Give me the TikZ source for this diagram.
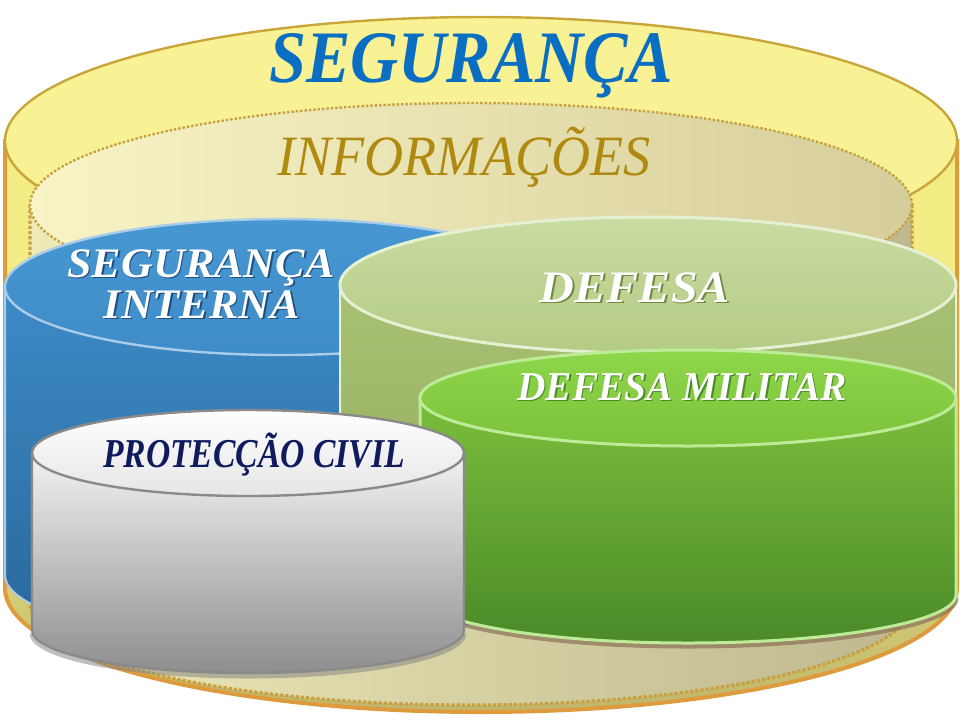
\documentclass[tikz,border=0pt]{standalone}
\usepackage{fontspec}
\setmainfont{Liberation Serif}
\usepackage{graphicx}
\definecolor{ylwTop}{HTML}{F8F294}
\definecolor{ylwBody}{HTML}{F3EB84}
\definecolor{ylwLow}{HTML}{BFB66C}
\definecolor{ylwLine}{HTML}{C9A63A}
\definecolor{ylwEdge}{HTML}{DE9B3E}
\definecolor{infL}{HTML}{F8F4C6}
\definecolor{infR}{HTML}{D6CE9A}
\definecolor{infBL}{HTML}{EEEAB8}
\definecolor{infBR}{HTML}{BDB88E}
\definecolor{infLine}{HTML}{C9A040}
\definecolor{bluTop}{HTML}{4697D2}
\definecolor{bluTop2}{HTML}{3F8CC8}
\definecolor{bluB1}{HTML}{3D8BC8}
\definecolor{bluB2}{HTML}{2A6797}
\definecolor{bluLine}{HTML}{A8CCEA}
\definecolor{defT1}{HTML}{C9DCA2}
\definecolor{defT2}{HTML}{B4CB84}
\definecolor{defB1}{HTML}{A9C174}
\definecolor{defB2}{HTML}{8DA858}
\definecolor{defLine}{HTML}{E6F0D2}
\definecolor{milT1}{HTML}{8ED64A}
\definecolor{milT2}{HTML}{7CC23A}
\definecolor{milB1}{HTML}{7BBE3C}
\definecolor{milB2}{HTML}{4B8A28}
\definecolor{milLine}{HTML}{BDEB98}
\definecolor{whtB2}{HTML}{8E8E8E}
\definecolor{whtLine}{HTML}{8A8A8A}
\definecolor{shadowBrown}{HTML}{8C7058}
\definecolor{segBlue}{HTML}{0A6FC2}
\definecolor{infGold}{HTML}{B08A10}
\definecolor{navy}{HTML}{0F1B5C}
\definecolor{shBlue}{HTML}{1E4E80}
\definecolor{shGreen}{HTML}{6E8A40}

\newcommand\cylbody[6]{%
  \path[#6] (#1-#2,#3) -- (#1-#2,#4) arc[start angle=180,end angle=0,x radius=#2,y radius=#5] -- (#1+#2,#3) -- cycle;}
\newcommand\cyltop[5]{%
  \path[#5] (#1,#2) ellipse[x radius=#3,y radius=#4];}
\newcommand\cylshadow[5]{%
  \path[#5] (#1-#2,#3) arc[start angle=180,end angle=0,x radius=#2,y radius=#4];}

\tikzset{
  txt/.style={inner sep=0pt, anchor=base},
  shadowline/.style={draw=shadowBrown, line width=2.5, opacity=0.7}
}

\begin{document}
\begin{tikzpicture}[x=0.5pt,y=-0.5pt]
\useasboundingbox (0,0) rectangle (960,720);

% outer SEGURANCA cylinder
\cylbody{481}{476}{141}{588}{124}{top color=ylwBody, bottom color=ylwLow, middle color=ylwBody, draw=ylwEdge, line width=2}
\cyltop{481}{141}{476}{124}{fill=ylwTop, draw=ylwLine, line width=1.2}

% inner INFORMACOES cylinder
\cylbody{471}{441}{205}{603}{102}{left color=infBL, right color=infBR, draw=infLine, line width=1.6, densely dotted}
\cyltop{471}{205}{441}{102}{left color=infL, right color=infR, draw=infLine, line width=1.2, densely dotted}

% blue SEGURANCA INTERNA cylinder
\cylbody{282}{277}{287}{575}{68}{top color=bluB1, bottom color=bluB2, draw=bluLine, line width=1}
\cyltop{282}{287}{277}{68}{top color=bluTop, bottom color=bluTop2, draw=bluLine, line width=1.2}

% DEFESA cylinder
\cylbody{648}{308}{285}{545}{68}{top color=defB1, bottom color=defB2, draw=defLine, line width=1}
\cyltop{648}{285}{308}{68}{top color=defT1, bottom color=defT2, draw=defLine, line width=1.5}

% DEFESA MILITAR cylinder
\cylshadow{688}{268}{598}{48}{shadowline}
\cylbody{688}{268}{398}{595}{48}{top color=milB1, bottom color=milB2, draw=milLine, line width=1.5}
\cyltop{688}{398}{268}{48}{top color=milT1, bottom color=milT2, draw=milLine, line width=1.5}

% PROTECCAO CIVIL cylinder
\cylshadow{248}{216}{633}{43}{shadowline, draw=gray, opacity=0.5}
\cylbody{248}{216}{453}{630}{43}{top color=white!95!black, bottom color=whtB2, draw=whtLine, line width=1.2}
\cyltop{248}{453}{216}{43}{top color=white, bottom color=white!90!black, draw=whtLine, line width=1.2}

% texts
\node[txt, font=\fontsize{37pt}{40pt}\selectfont\bfseries\itshape, text=segBlue] (seg) at (471,82) {\scalebox{0.9}[1]{SEGURANÇA}};
\node[txt, font=\fontsize{28.5pt}{30pt}\selectfont\itshape, text=infGold] (inf) at (464,175) {\scalebox{0.95}[1]{INFORMAÇÕES}};

\node[txt, font=\fontsize{21pt}{23pt}\selectfont\bfseries\itshape, text=shBlue] (segish) at (202.5,278.5) {\scalebox{1.05}[1]{SEGURANÇA}};
\node[txt, font=\fontsize{21pt}{23pt}\selectfont\bfseries\itshape, text=shBlue] (intsh) at (203.5,319.5) {\scalebox{1.05}[1]{INTERNA}};
\node[txt, font=\fontsize{21pt}{23pt}\selectfont\bfseries\itshape, text=white] (segi) at (201,277) {\scalebox{1.05}[1]{SEGURANÇA}};
\node[txt, font=\fontsize{21pt}{23pt}\selectfont\bfseries\itshape, text=white] (inti) at (202,318) {\scalebox{1.05}[1]{INTERNA}};

\node[txt, font=\fontsize{22.5pt}{24pt}\selectfont\bfseries\itshape, text=shGreen] (defsh) at (636.5,303.5) {\scalebox{1.07}[1]{DEFESA}};
\node[txt, font=\fontsize{22.5pt}{24pt}\selectfont\bfseries\itshape, text=white] (def) at (635,302) {\scalebox{1.07}[1]{DEFESA}};

\node[txt, font=\fontsize{20.5pt}{22pt}\selectfont\bfseries\itshape, text=milB2] (milsh) at (683.5,401.5) {\scalebox{0.96}[1]{DEFESA MILITAR}};
\node[txt, font=\fontsize{20.5pt}{22pt}\selectfont\bfseries\itshape, text=white] (mil) at (682,400) {\scalebox{0.96}[1]{DEFESA MILITAR}};

\node[txt, font=\fontsize{20.5pt}{22pt}\selectfont\bfseries\itshape, text=navy] (prot) at (254,467) {\scalebox{0.82}[1]{PROTECÇÃO CIVIL}};
\end{tikzpicture}
\end{document}
